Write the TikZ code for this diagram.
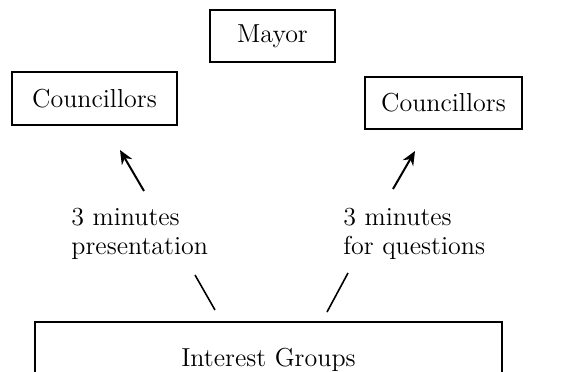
\documentclass[tikz,border=0pt]{standalone}
\usepackage{tikz}
\usetikzlibrary{arrows.meta}
\tikzset{
  box/.style={draw,line width=0.9pt,inner sep=0pt,align=center},
  lbl/.style={align=left,inner sep=0pt,anchor=north west},
  arr/.style={-{Stealth[length=7pt,width=6pt]},line width=1pt},
  seg/.style={line width=0.8pt},
}

\begin{document}
\begin{tikzpicture}[x=0.5pt,y=-0.5pt,font=\fontsize{13}{14.5}\selectfont]
\useasboundingbox (0,0) rectangle (566,371);
\clip (0,0) rectangle (566,371);
\node[box,minimum width=62.5pt,minimum height=26pt] (mayor) at (272.5,36) {Mayor};
\node[box,minimum width=82.5pt,minimum height=26.5pt] (cl) at (94.5,98.5) {Councillors};
\node[box,minimum width=78.5pt,minimum height=26pt] (cr) at (443.5,103) {Councillors};
\node[box,minimum width=233.5pt,minimum height=38pt] (ig) at (268.5,360) {Interest Groups};
\node[lbl] (pres) at (71,208) {3 minutes\\presentation};
\node[lbl] (quest) at (343,208) {3 minutes\\for questions};
% ends of the two broken connectors
\coordinate (presTop) at (144,191);
\coordinate (presHead) at (120,150);
\coordinate (presBot) at (195,275);
\coordinate (presFoot) at (215,310);
\coordinate (questTop) at (393,189);
\coordinate (questHead) at (415,151);
\coordinate (questBot) at (348,273);
\coordinate (questFoot) at (327,312);
\draw[arr] (presTop) -- (presHead);
\draw[arr] (questTop) -- (questHead);
\draw[seg] (presFoot) -- (presBot);
\draw[seg] (questFoot) -- (questBot);
\end{tikzpicture}
\end{document}
